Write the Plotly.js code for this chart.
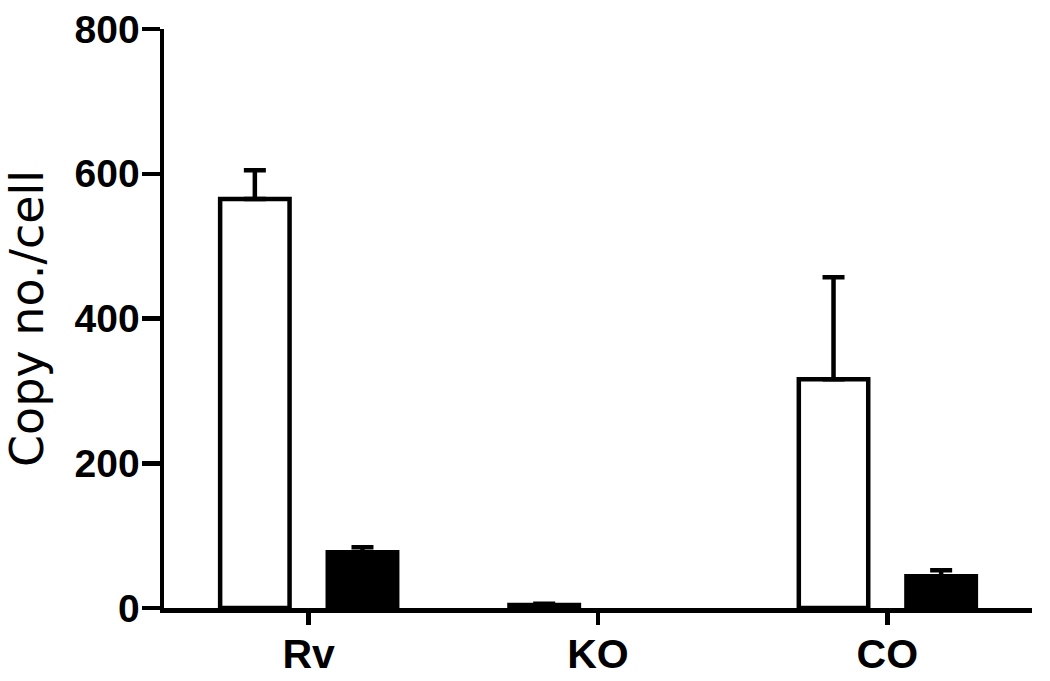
<!DOCTYPE html>
<html>
<head>
<meta charset="utf-8">
<script src="https://cdn.plot.ly/plotly-3.0.1.min.js"></script>
<style>html,body{margin:0;padding:0;background:#fff;}#chart{width:1050px;height:681px;}</style>
</head>
<body>
<div id="chart"></div>
<script>
const categories = ["Rv", "KO", "CO"];
const openValues = [565, 4, 316];
const openErrors = [40, 2, 141];
const filledValues = [77, null, 44];
const filledErrors = [7, null, 8];
const yTickValues = [0, 200, 400, 600, 800];
const yTitle = "Copy no./cell";

const traces = [
  {
    type: "bar", x: categories, y: openValues,
    marker: {color: "#ffffff", line: {color: "#000000", width: 4.5}},
    error_y: {type: "data", array: openErrors, arrayminus: openErrors.map(() => 0), symmetric: false,
              color: "#000000", thickness: 4.5, width: 11},
    hoverinfo: "none"
  },
  {
    type: "bar", x: categories, y: filledValues,
    marker: {color: "#000000", line: {color: "#000000", width: 4.5}},
    error_y: {type: "data", array: filledErrors, arrayminus: filledErrors.map(() => 0), symmetric: false,
              color: "#000000", thickness: 4.5, width: 11},
    hoverinfo: "none"
  }
];

const layout = {
  width: 1050, height: 681,
  margin: {l: 164, r: 18, t: 29, b: 73},
  paper_bgcolor: "#ffffff", plot_bgcolor: "#ffffff",
  showlegend: false,
  barmode: "group", bargap: 0.256, bargroupgap: 0.355,
  xaxis: {
    type: "category", range: [-0.5, 2.5],
    showline: true, linecolor: "#000", linewidth: 4.5,
    ticks: "outside", ticklen: 12, tickwidth: 4.5, tickcolor: "#000",
    showgrid: false, zeroline: false, ticklabelstandoff: -6,
    tickfont: {family: "Liberation Sans, Arial, sans-serif", size: 41, color: "#000", weight: "bold"}
  },
  yaxis: {
    range: [0, 800], tickvals: yTickValues, ticktext: yTickValues.map(String),
    showline: true, linecolor: "#000", linewidth: 4.5,
    ticks: "outside", ticklen: 18, tickwidth: 4.5, tickcolor: "#000",
    showgrid: false, zeroline: false, ticklabelstandoff: -6,
    tickfont: {family: "Liberation Sans, Arial, sans-serif", size: 39, color: "#000", weight: "bold"},
    title: {text: yTitle, font: {family: "DejaVu Sans, sans-serif", size: 46, color: "#000"}, standoff: 20}
  }
};

Plotly.newPlot("chart", traces, layout, {staticPlot: true, displayModeBar: false});
</script>
</body>
</html>
